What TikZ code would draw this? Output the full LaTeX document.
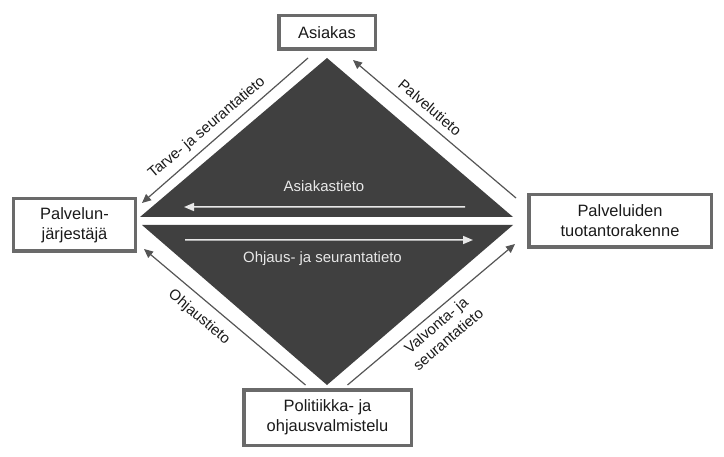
\documentclass[tikz,border=0pt]{standalone}
\usepackage{fontspec}
\setmainfont{Liberation Sans}
\usetikzlibrary{arrows.meta,positioning,calc}
\definecolor{boxline}{HTML}{6A6A6A}
\definecolor{darkfill}{HTML}{404040}
\definecolor{flowgray}{HTML}{555555}
\definecolor{inkblack}{HTML}{1A1A1A}
\definecolor{lightink}{HTML}{E8E8E8}
\tikzset{
  box/.style={draw=boxline, line width=3.5bp, fill=white, align=center, text=inkblack,
    font=\fontsize{16.5}{20}\selectfont, inner sep=0pt},
  flow/.style={draw=flowgray, line width=1.2bp, -{Triangle[length=9bp,width=8bp]}},
  innerflow/.style={draw=lightink, line width=1.5bp, -{Triangle[length=10bp,width=8bp]}},
  lbl/.style={text=inkblack, font=\fontsize{15}{18.5}\selectfont, align=center, inner sep=0pt},
  innerlbl/.style={text=lightink, font=\fontsize{15}{18}\selectfont, inner sep=0pt}
}
\begin{document}
\begin{tikzpicture}[x=1bp,y=-1bp]
\useasboundingbox (0,0) rectangle (724,457);
% the two dark halves
\fill[darkfill] (140,217) -- (327,58) -- (513,217) -- cycle;
\fill[darkfill] (142,225) -- (513,225) -- (327,385) -- cycle;
% boxes
\node[box, minimum width=96.5bp, minimum height=33.5bp] (asiakas) at (327,32.5) {Asiakas};
\node[box, minimum width=121.5bp, minimum height=52.5bp] (jarjestaja) at (74.5,225) {Palvelun-\\järjestäjä};
\node[box, minimum width=182.5bp, minimum height=52.5bp] (tuotanto) at (620,221) {Palveluiden\\tuotantorakenne};
\node[box, minimum width=167.5bp, minimum height=55.5bp] (politiikka) at (327.5,417.5) {Politiikka- ja\\ohjausvalmistelu};
% outer flows
\draw[flow] ([xshift=-19bp,yshift=-7bp]asiakas.south) -- ([xshift=5bp,yshift=-6bp]jarjestaja.north east);
\draw[flow] ([xshift=-11bp,yshift=-5bp]tuotanto.north west) -- ([xshift=26bp,yshift=-9bp]asiakas.south);
\draw[flow] ([xshift=-22bp,yshift=3bp]politiikka.north) -- ([xshift=7bp,yshift=4bp]jarjestaja.south east);
\draw[flow] ([xshift=20bp,yshift=3bp]politiikka.north) -- ([xshift=-12bp,yshift=5bp]tuotanto.south west);
% inner flows
\draw[innerflow] ([xshift=-62bp,yshift=14bp]tuotanto.west) -- ([xshift=47bp,yshift=18bp]jarjestaja.east);
\draw[innerflow] ([xshift=48bp,yshift=-15bp]jarjestaja.east) -- ([xshift=-54bp,yshift=-19bp]tuotanto.west);
% labels
\node[lbl, rotate=40.4] (tarve) at (207,128) {Tarve- ja seurantatieto};
\node[lbl, rotate=-40.4] (palvelu) at (430,107.5) {Palvelutieto};
\node[lbl, rotate=-40.4] (ohjaus) at (199,317.5) {Ohjaustieto};
\node[lbl, rotate=40.4] (valvonta) at (442,332) {Valvonta- ja\\seurantatieto};
\node[innerlbl, anchor=base] (asiakastieto) at (324,192) {Asiakastieto};
\node[innerlbl, anchor=base] (ohjausseuranta) at (322.5,263) {Ohjaus- ja seurantatieto};
\end{tikzpicture}
\end{document}
